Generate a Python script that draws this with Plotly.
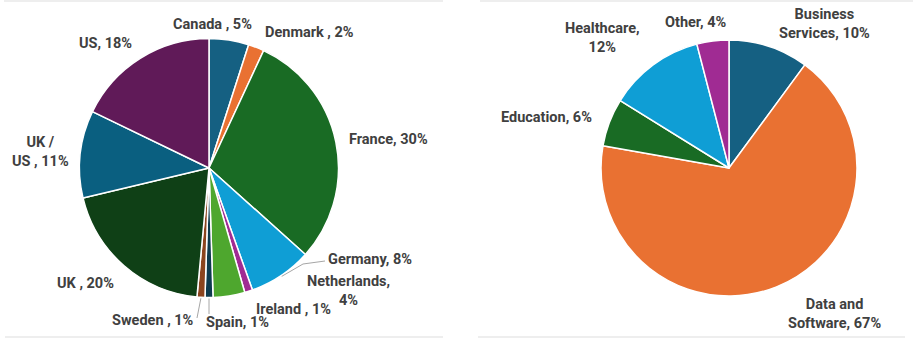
import math
import plotly.graph_objects as go

W, H = 913, 339

# ---- data -------------------------------------------------------------
countries = ["Canada", "Denmark", "France", "Germany", "Ireland", "Netherlands",
             "Spain", "Sweden", "UK", "UK / US", "US"]
country_pct = [5, 2, 30, 8, 1, 4, 1, 1, 20, 11, 18]

sectors = ["Business Services", "Data and Software", "Education", "Healthcare", "Other"]
sector_pct = [10, 67, 6, 12, 4]

# label templates ({v} = value)
country_fmt = ["Canada , {v}%", "Denmark , {v}%", "France, {v}%", "Germany, {v}%",
               "Ireland , {v}%", "Netherlands,<br>{v}%", "Spain, {v}%", "Sweden , {v}%",
               "UK , {v}%", "UK /<br>US , {v}%", "US, {v}%"]
sector_fmt = ["Business<br>Services, {v}%", "Data and<br>Software, {v}%", "Education, {v}%",
              "Healthcare,<br>{v}%", "Other, {v}%"]

# ---- styling ------------------------------------------------------------
country_colors = ["#156082", "#E97132", "#196B24", "#0F9ED5", "#A02B93", "#4EA72E",
                  "#0D3A4E", "#8B441E", "#0F4016", "#0A5F80", "#601A58"]
sector_colors = ["#156082", "#E97132", "#196B24", "#0F9ED5", "#A02B93"]

FONT = "Roboto, Lato, sans-serif"
TXT = "#404040"
FSIZE = 14.5

# pie geometry in pixels (center x, center y from top, radius)
LEFT = (209, 168, 129.5)
RIGHT = (729, 168, 128)

# label centres in pixels, same order as the slices
country_pos = [(212, 24), (309, 32), (388, 139), (370, 259), (293, 309), (348, 291),
               (237, 322), (153, 320), (85, 283), (40, 152), (105, 43)]
sector_pos = [(824, 24), (834, 314), (546, 117), (602, 38), (696, 22)]


def px(x):
    return x / W


def py(y):
    return 1 - y / H


def domain(geom):
    cx, cy, r = geom
    return dict(x=[px(cx - r), px(cx + r)], y=[py(cy + r), py(cy - r)])


def edge_point(values, i, geom, extra=1.0):
    """Point on the rim at the middle of slice i (clockwise from 12 o'clock)."""
    cx, cy, r = geom
    total = sum(values)
    mid = (sum(values[:i]) + values[i] / 2) / total * 2 * math.pi
    return cx + (r + extra) * math.sin(mid), cy - (r + extra) * math.cos(mid)


fig = go.Figure()

fig.add_trace(go.Pie(
    labels=countries, values=country_pct, sort=False, direction="clockwise", rotation=0,
    marker=dict(colors=country_colors, line=dict(color="white", width=1.5)),
    textinfo="none", hoverinfo="label+percent", domain=domain(LEFT), showlegend=False,
))
fig.add_trace(go.Pie(
    labels=sectors, values=sector_pct, sort=False, direction="clockwise", rotation=0,
    marker=dict(colors=sector_colors, line=dict(color="white", width=1.5)),
    textinfo="none", hoverinfo="label+percent", domain=domain(RIGHT), showlegend=False,
))

label_font = dict(family=FONT, size=FSIZE, color=TXT, weight="bold")
annotations = []
for fmts, vals, poss in [(country_fmt, country_pct, country_pos),
                         (sector_fmt, sector_pct, sector_pos)]:
    for fmt, v, (x, y) in zip(fmts, vals, poss):
        annotations.append(dict(x=px(x), y=py(y), xref="paper", yref="paper",
                                xanchor="center", yanchor="middle",
                                text=fmt.format(v=v), showarrow=False, align="center",
                                font=label_font))

shapes = []
# leader lines for the small slices near the bottom of the country pie
leaders = {
    "Germany": [(303, 264), (325, 261)],
    "Spain": [(209, 314)],
    "Sweden": [(197, 318)],
}
for name, pts in leaders.items():
    i = countries.index(name)
    x0, y0 = edge_point(country_pct, i, LEFT)
    path = f"M {px(x0)},{py(y0)}" + "".join(f" L {px(a)},{py(b)}" for a, b in pts)
    shapes.append(dict(type="path", xref="paper", yref="paper", path=path,
                       line=dict(color="#a6a6a6", width=1)))

# faint panel frames
for x0, x1, y in [(4, 443, 1), (480, 913, 1), (5, 443, 337), (478, 905, 337)]:
    shapes.append(dict(type="line", xref="paper", yref="paper",
                       x0=px(x0), x1=px(x1), y0=py(y), y1=py(y),
                       line=dict(color="#e8e8e8", width=1.5)))

fig.update_layout(
    width=W, height=H, margin=dict(l=0, r=0, t=0, b=0),
    paper_bgcolor="white", plot_bgcolor="white",
    annotations=annotations, shapes=shapes,
    font=dict(family=FONT, color=TXT),
)

fig.write_html("out.html")
